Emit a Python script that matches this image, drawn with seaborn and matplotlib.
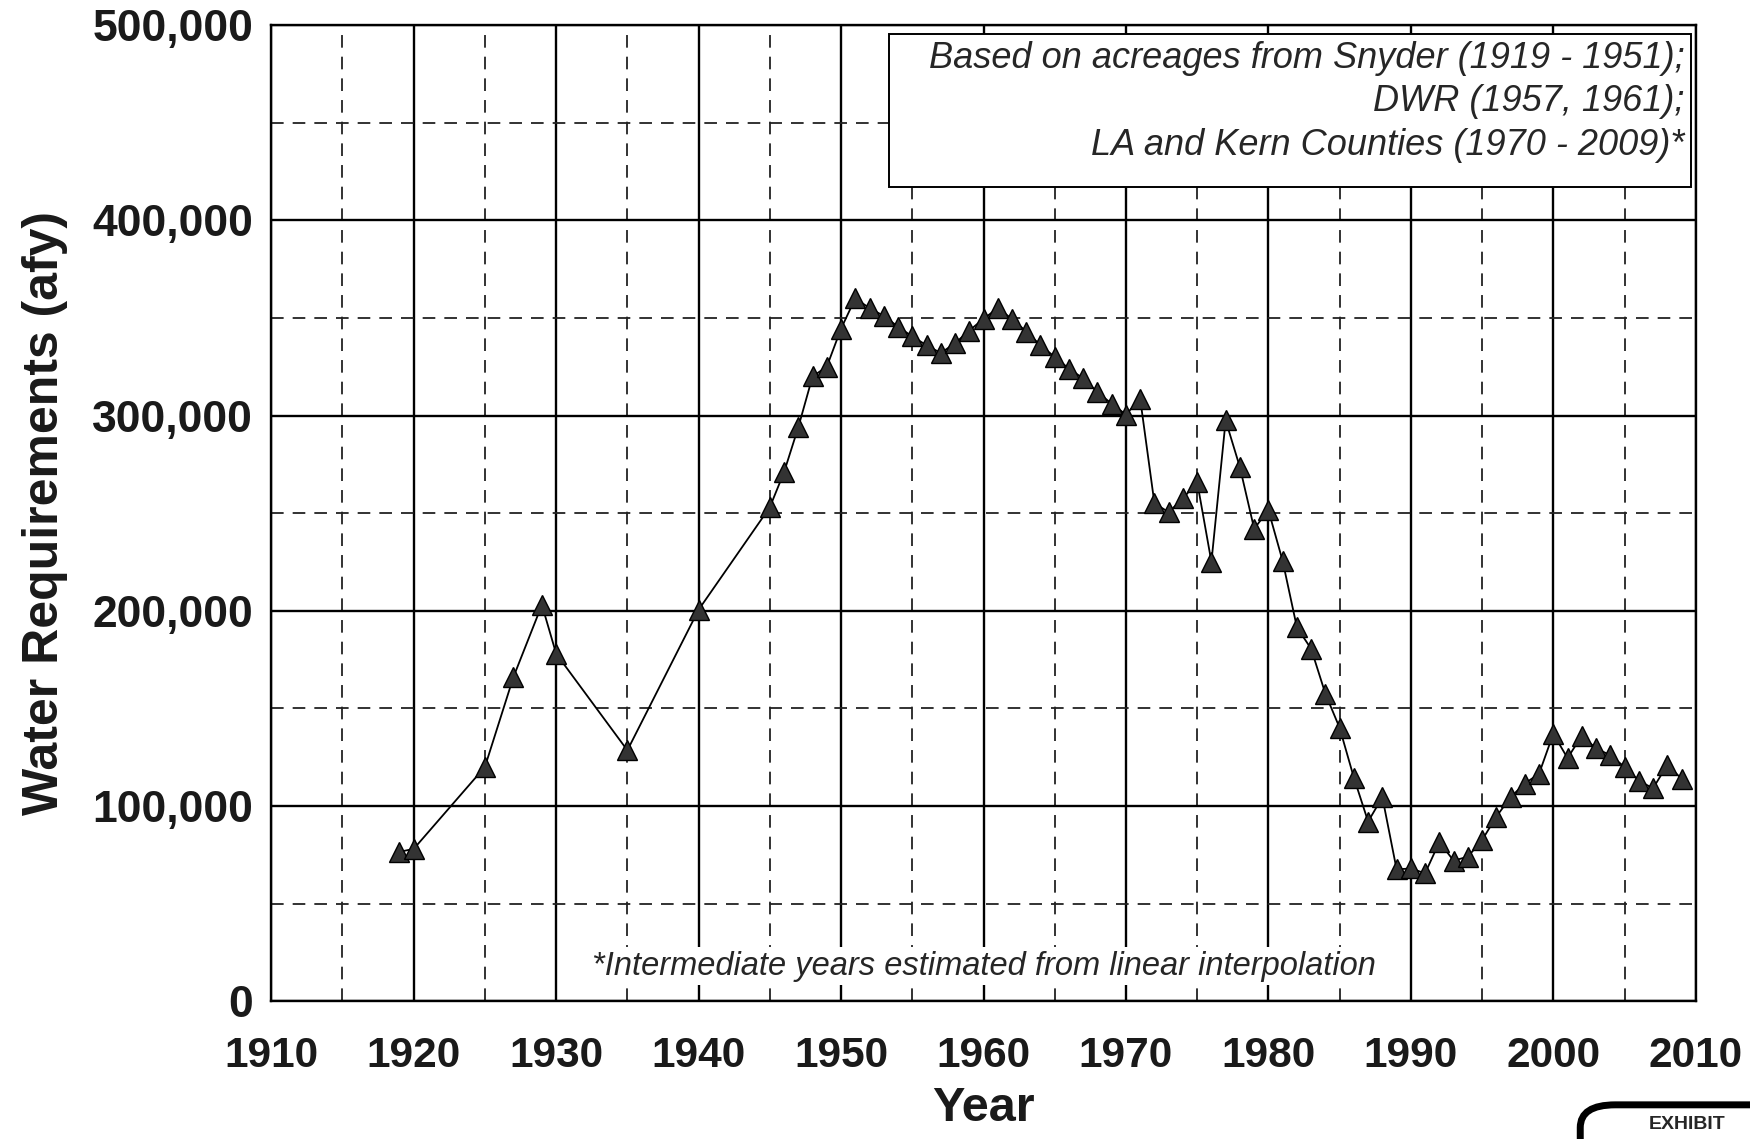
import numpy as np
import pandas as pd
import seaborn as sns
from matplotlib import pyplot as plt
from matplotlib.patches import Rectangle, FancyBboxPatch
from matplotlib.ticker import MultipleLocator, FuncFormatter

# values
years = [1919, 1920, 1925, 1927, 1929, 1930, 1935, 1940,
         1945, 1946, 1947, 1948, 1949, 1950, 1951, 1952, 1953, 1954,
         1955, 1956, 1957, 1958, 1959, 1960, 1961, 1962, 1963, 1964,
         1965, 1966, 1967, 1968, 1969, 1970, 1971, 1972, 1973, 1974,
         1975, 1976, 1977, 1978, 1979, 1980, 1981, 1982, 1983, 1984,
         1985, 1986, 1987, 1988, 1989, 1990, 1991, 1992, 1993, 1994,
         1995, 1996, 1997, 1998, 1999, 2000, 2001, 2002, 2003, 2004,
         2005, 2006, 2007, 2008, 2009]
water_afy = [76500, 78000, 120000, 166000, 203000, 178000, 128500, 200500,
             253000, 271000, 294000, 320000, 325000, 344500, 360000, 355000, 351000, 345500,
             340500, 336000, 332000, 337000, 343500, 349500, 355000, 349500, 343000, 336000,
             330000, 324000, 319000, 312000, 306000, 300500, 308500, 255000, 250500, 257500,
             266000, 225000, 297500, 273500, 242000, 251500, 225500, 191500, 180500, 157500,
             140000, 114500, 92000, 104500, 67500, 68000, 65500, 81500, 72000, 74000,
             82500, 94500, 104500, 111500, 116500, 137000, 124500, 136000, 129500, 126000,
             120000, 113000, 109000, 121000, 114000]

source_note = "Based on acreages from Snyder (1919 - 1951);\nDWR (1957, 1961);\nLA and Kern Counties (1970 - 2009)*"
interp_note = "*Intermediate years estimated from linear interpolation"

df = pd.DataFrame({'Year': years, 'afy': water_afy})

sns.set_style('white')
plt.rcParams['font.family'] = ['Liberation Sans', 'DejaVu Sans']

fig = plt.figure(figsize=(17.5, 11.39), dpi=100)
ax = fig.add_axes([0.155, 0.121, 0.814, 0.857])

sns.lineplot(data=df, x='Year', y='afy', ax=ax, color='black', linewidth=1.3,
             marker='^', markersize=15, markerfacecolor='#333333',
             markeredgecolor='black', markeredgewidth=1.0, zorder=5)

ax.set_xlim(1910, 2010)
ax.set_ylim(0, 500000)
ax.xaxis.set_major_locator(MultipleLocator(10))
ax.xaxis.set_minor_locator(MultipleLocator(5))
ax.yaxis.set_major_locator(MultipleLocator(100000))
ax.yaxis.set_minor_locator(MultipleLocator(50000))
ax.yaxis.set_major_formatter(FuncFormatter(lambda v, p: f'{int(v):,}'))

ax.grid(which='major', color='black', linewidth=1.7, linestyle='-')
ax.grid(which='minor', color='#222222', linewidth=1.3, linestyle=(0, (7, 5)))
ax.set_axisbelow(True)

for s in ax.spines.values():
    s.set_color('black')
    s.set_linewidth(1.7)

ax.tick_params(axis='both', which='both', length=0)
ax.tick_params(axis='x', pad=25, labelsize=30.5)
ax.tick_params(axis='y', pad=13, labelsize=32)
for lbl in ax.get_xticklabels() + ax.get_yticklabels():
    lbl.set_fontweight('bold')
    lbl.set_color('#1a1a1a')

ax.set_xlabel('Year', fontsize=35, fontweight='bold', color='#1a1a1a')
ax.set_ylabel('Water Requirements (afy)', fontsize=36, fontweight='bold', color='#1a1a1a')
ax.xaxis.set_label_coords(0.5, -0.11)
ax.xaxis.label.set_verticalalignment('center')
ax.yaxis.set_label_coords(-0.159, 0.5)
ax.yaxis.label.set_verticalalignment('center')

# source box in upper right
ax.add_patch(Rectangle((0.434, 0.834), 0.5625, 0.157, transform=ax.transAxes,
                       facecolor='white', edgecolor='black', linewidth=1.4, zorder=9))
ax.text(0.992, 0.984, source_note, transform=ax.transAxes, ha='right', va='top',
        fontsize=26, style='italic', linespacing=1.32, zorder=10)

ax.text(0.5, 0.036, interp_note, transform=ax.transAxes, ha='center', va='center',
        fontsize=23.5, style='italic', zorder=10,
        bbox=dict(boxstyle='square,pad=0.12', facecolor='white', edgecolor='none'))

# partial exhibit stamp at lower right corner of the scan
fig.patches.append(FancyBboxPatch((0.903, -0.06), 0.2, 0.09, transform=fig.transFigure,
                                  boxstyle='round,pad=0,rounding_size=0.02', facecolor='white',
                                  edgecolor='black', linewidth=5, figure=fig))
fig.text(0.942, 0.013, 'EXHIBIT', fontsize=14, fontweight='bold', ha='left', va='center')

fig.savefig('out.png', dpi=100)
